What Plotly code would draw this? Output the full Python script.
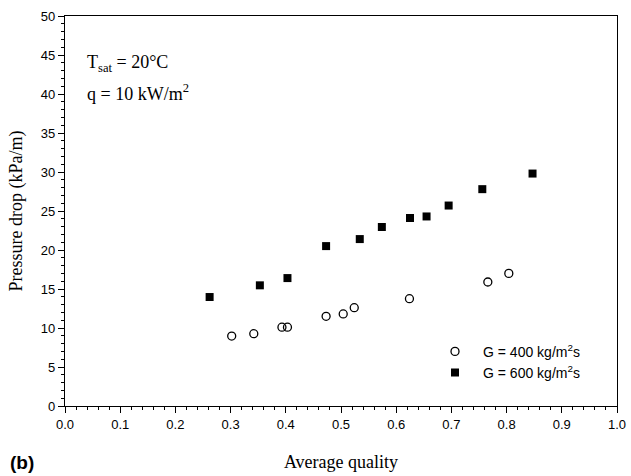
import plotly.graph_objects as go

# Data
x_400 = [0.302, 0.342, 0.393, 0.403, 0.473, 0.504, 0.524, 0.624, 0.766, 0.804]
y_400 = [8.97, 9.27, 10.1, 10.1, 11.5, 11.8, 12.6, 13.76, 15.9, 17.0]
x_600 = [0.262, 0.353, 0.403, 0.473, 0.534, 0.574, 0.625, 0.655, 0.695, 0.756, 0.847]
y_600 = [13.97, 15.47, 16.4, 20.5, 21.4, 22.95, 24.1, 24.3, 25.7, 27.8, 29.8]
x_ticks = [0.0, 0.1, 0.2, 0.3, 0.4, 0.5, 0.6, 0.7, 0.8, 0.9, 1.0]
x_ticklabels = ["0.0", "0.1", "0.2", "0.3", "0.4", "0.5", "0.6", "0.7", "0.8", "0.9", "1.0"]
y_ticks = [0, 5, 10, 15, 20, 25, 30, 35, 40, 45, 50]

fig = go.Figure()
fig.add_trace(go.Scatter(
    x=x_400, y=y_400, mode="markers", name="G = 400 kg/m<sup>2</sup>s", legendgroup="a",
    marker=dict(symbol="circle-open", size=8, color="black", line=dict(width=1.3, color="black")),
))
fig.add_trace(go.Scatter(
    x=x_600, y=y_600, mode="markers", name="G = 600 kg/m<sup>2</sup>s", legendgroup="b",
    marker=dict(symbol="square", size=8, color="black"),
))

axis_common = dict(
    showgrid=False, zeroline=False, showline=True, linecolor="black", linewidth=1.3,
    mirror=True, ticks="outside", ticklen=6, tickwidth=1, tickcolor="black", automargin=False,
    tickfont=dict(family="Liberation Sans, Arial", size=13, color="black"),
)

fig.update_layout(
    width=631, height=476, autosize=False,
    margin=dict(l=65, r=14, t=16, b=70, pad=0),
    paper_bgcolor="white", plot_bgcolor="white",
    xaxis=dict(
        range=[0, 1.0], tickvals=x_ticks, ticktext=x_ticklabels,
        minor=dict(ticks="outside", ticklen=3, dtick=0.02, tickcolor="black"),
        title=dict(text="Average quality", standoff=24,
                   font=dict(family="Liberation Serif, Times New Roman", size=18, color="black")),
        **axis_common,
    ),
    yaxis=dict(
        range=[0, 50], tickvals=y_ticks,
        minor=dict(ticks="outside", ticklen=3, dtick=1, tickcolor="black"),
        title=dict(text="Pressure drop (kPa/m)", standoff=13,
                   font=dict(family="Liberation Serif, Times New Roman", size=18, color="black")),
        **axis_common,
    ),
    legend=dict(
        x=0.6558, y=0.18, xanchor="left", yanchor="top",
        font=dict(family="Liberation Sans, Arial", size=14, color="black"),
        bgcolor="rgba(0,0,0,0)", itemwidth=46, tracegroupgap=0,
    ),
    showlegend=True,
)

fig.add_annotation(
    x=0.036, y=0.879, xref="paper", yref="paper", xanchor="left", yanchor="middle",
    text="T<sub>sat</sub> = 20°C", showarrow=False,
    font=dict(family="Liberation Serif, Times New Roman", size=18, color="black"),
)
fig.add_annotation(
    x=0.036, y=0.805, xref="paper", yref="paper", xanchor="left", yanchor="middle",
    text="q = 10 kW/m<sup>2</sup>", showarrow=False,
    font=dict(family="Liberation Serif, Times New Roman", size=18, color="black"),
)
fig.add_annotation(
    x=-0.104, y=-0.145, xref="paper", yref="paper", xanchor="left", yanchor="middle",
    text="<b>(b)</b>", showarrow=False,
    font=dict(family="Liberation Sans, Arial", size=19, color="black"),
)

fig.write_html("out.html", config={"displayModeBar": False},
               post_script="document.body.style.margin='0';document.body.style.padding='0';")
